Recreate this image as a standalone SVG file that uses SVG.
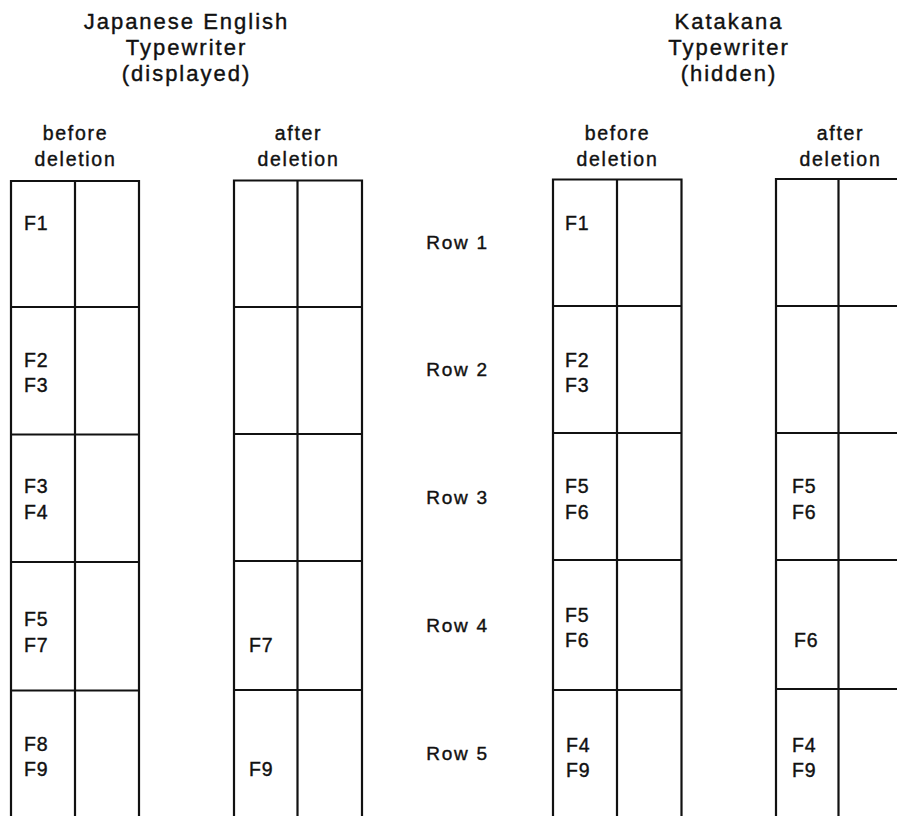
<svg xmlns="http://www.w3.org/2000/svg" width="897" height="816" viewBox="0 0 897 816">
<style>
  .ln { stroke: #111; stroke-width: 2.2; fill: none; stroke-linecap: square; }
  text { font-family: "Liberation Sans", Arial, sans-serif; fill: #111; stroke: #111; stroke-width: 0.4px; }
  .title { font-size: 22px; letter-spacing: 2px; text-anchor: middle; }
  .head { font-size: 19.5px; letter-spacing: 1.7px; text-anchor: middle; }
  .row { font-size: 19px; letter-spacing: 1.7px; text-anchor: middle; }
  .f { font-size: 19.5px; letter-spacing: 0.8px; }
</style>
<rect width="897" height="816" fill="#fff"/>

<g id="title-left">
  <text class="title" x="186.5" y="28.5">Japanese English</text>
  <text class="title" x="186.5" y="54.5">Typewriter</text>
  <text class="title" x="186.5" y="80.5">(displayed)</text>
</g>
<g id="title-right">
  <text class="title" x="729" y="28.5">Katakana</text>
  <text class="title" x="729" y="54.5">Typewriter</text>
  <text class="title" x="729" y="80.5">(hidden)</text>
</g>

<g id="grid-je-before">
  <text class="head" x="75.5" y="140">before</text>
  <text class="head" x="75.5" y="165.5">deletion</text>
  <path class="ln" d="M11 816 V181 H139 V816 M75 181 V816 M11 307 H139 M11 434.5 H139 M11 562 H139 M11 690.5 H139"/>
  <text class="f" x="24" y="230">F1</text>
  <text class="f" x="24" y="367">F2</text>
  <text class="f" x="24" y="392">F3</text>
  <text class="f" x="24" y="493">F3</text>
  <text class="f" x="24" y="518.5">F4</text>
  <text class="f" x="24" y="626">F5</text>
  <text class="f" x="24" y="651.5">F7</text>
  <text class="f" x="24" y="751">F8</text>
  <text class="f" x="24" y="776">F9</text>
</g>

<g id="grid-je-after">
  <text class="head" x="298.5" y="140">after</text>
  <text class="head" x="298.5" y="165.5">deletion</text>
  <path class="ln" d="M234 816 V180.5 H362 V816 M297.5 180.5 V816 M234 307 H362 M234 434 H362 M234 561 H362 M234 690 H362"/>
  <text class="f" x="249" y="651.5">F7</text>
  <text class="f" x="249" y="776">F9</text>
</g>

<g id="row-labels">
  <text class="row" x="457.5" y="248.5">Row 1</text>
  <text class="row" x="457.5" y="376">Row 2</text>
  <text class="row" x="457.5" y="504">Row 3</text>
  <text class="row" x="457.5" y="631.5">Row 4</text>
  <text class="row" x="457.5" y="759.5">Row 5</text>
</g>

<g id="grid-kt-before">
  <text class="head" x="617.5" y="140">before</text>
  <text class="head" x="617.5" y="165.5">deletion</text>
  <path class="ln" d="M553 816 V179.5 H681.5 V816 M617 179.5 V816 M553 306 H681.5 M553 433 H681.5 M553 560 H681.5 M553 690 H681.5"/>
  <text class="f" x="565" y="230">F1</text>
  <text class="f" x="565" y="367">F2</text>
  <text class="f" x="565" y="392">F3</text>
  <text class="f" x="565" y="493">F5</text>
  <text class="f" x="565" y="518.5">F6</text>
  <text class="f" x="565" y="622">F5</text>
  <text class="f" x="565" y="647">F6</text>
  <text class="f" x="566" y="752">F4</text>
  <text class="f" x="566" y="777">F9</text>
</g>

<g id="grid-kt-after">
  <text class="head" x="840.5" y="140">after</text>
  <text class="head" x="840.5" y="165.5">deletion</text>
  <path class="ln" d="M776 816 V179 H899 M838.5 179 V816 M776 306 H899 M776 433 H899 M776 560 H899 M776 689 H899"/>
  <text class="f" x="792" y="493">F5</text>
  <text class="f" x="792" y="519">F6</text>
  <text class="f" x="794" y="647">F6</text>
  <text class="f" x="792" y="752">F4</text>
  <text class="f" x="792" y="777">F9</text>
</g>
</svg>
